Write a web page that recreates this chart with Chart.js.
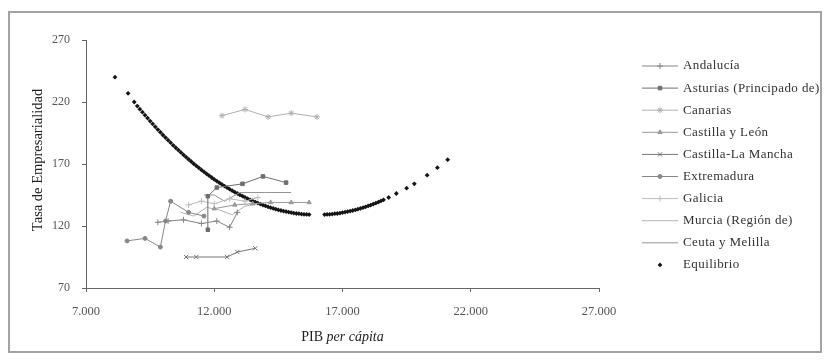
<html>
<head>
<meta charset="utf-8">
<title>Tasa de Empresarialidad - PIB per cápita</title>
<script src="https://cdn.jsdelivr.net/npm/chart.js@4.4.1/dist/chart.umd.min.js"></script>
<style>
  body { margin: 0; background: #fff; }
  #wrap { width: 826px; height: 360px; position: relative; }
</style>
</head>
<body>
<div id="wrap"><canvas id="chart" width="826" height="360"></canvas></div>
<script>
// --- data ---
var andaluciaX = [9800, 10200, 10800, 11500, 12100, 12600, 12900];
var andaluciaY = [123, 124, 125, 122, 124, 119, 131];
var asturiasX = [11750, 11750, 12100, 13100, 13900, 14800];
var asturiasY = [117, 144, 151, 154, 160, 155];
var canariasX = [12300, 13200, 14100, 15000, 16000];
var canariasY = [209, 214, 208, 211, 208];
var castillaLeonX = [12000, 12800, 13500, 14200, 15000, 15700];
var castillaLeonY = [134, 137, 138, 139, 139, 139];
var castillaManchaX = [10900, 11300, 12500, 12900, 13600];
var castillaManchaY = [95, 95, 95, 99, 102];
var extremaduraX = [8600, 9300, 9900, 10100, 10300, 11000, 11600];
var extremaduraY = [108, 110, 103, 124, 140, 131, 128];
var galiciaX = [11000, 11500, 12000, 12600, 13200, 13700];
var galiciaY = [137, 140, 138, 142, 140, 143];
var murciaX = [10700, 11200, 11700, 12200, 12700, 13200, 13700];
var murciaY = [131, 128, 135, 133, 129, 136, 138];
var ceutaX = [11600, 12000, 12400, 13000, 14000, 15000];
var ceutaY = [145, 145, 140, 147, 147, 147];

var equilibrioX = [8130, 8640, 8880, 9000, 9100, 9200, 9300, 9400, 9500, 9600, 9700, 9800, 9900,
  10000, 10100, 10200, 10300, 10400, 10500, 10600, 10700, 10800, 10900, 11000, 11100, 11200,
  11300, 11400, 11500, 11600, 11700, 11800, 11900, 12000, 12100, 12200, 12300, 12400, 12500,
  12600, 12700, 12800, 12900, 13000, 13100, 13200, 13300, 13400, 13500, 13600, 13700, 13800,
  13900, 14000, 14100, 14200, 14300, 14400, 14500, 14600, 14700, 14800, 14900, 15000, 15100,
  15200, 15300, 15400, 15500, 15600, 15700,
  16300, 16400, 16500, 16600, 16700, 16800, 16900, 17000, 17100, 17200, 17300, 17400, 17500,
  17600, 17700, 17800, 17900, 18000, 18100, 18200, 18300, 18400, 18500, 18600,
  18800, 19100, 19500, 19800, 20300, 20700, 21100];
var equilibrioY = [240, 227, 220, 216.7, 214.2, 211.8, 209.4, 207, 204.6, 202.3, 200, 197.8, 195.6,
  193.4, 191.3, 189.2, 187.2, 185.1, 183.1, 181.2, 179.3, 177.4, 175.6, 173.8, 172, 170.2,
  168.5, 166.9, 165.2, 163.7, 162.1, 160.6, 159.1, 157.6, 156.2, 154.8, 153.5, 152.2, 150.9,
  149.7, 148.5, 147.3, 146.2, 145.1, 144.1, 143, 142, 141.1, 140.2, 139.3, 138.5, 137.7,
  136.9, 136.2, 135.5, 134.8, 134.2, 133.6, 133, 132.5, 132, 131.6, 131.2, 130.8, 130.4,
  130.1, 129.9, 129.6, 129.4, 129.3, 129.2,
  129.2, 129.3, 129.4, 129.6, 129.9, 130.1, 130.4, 130.8, 131.2, 131.6, 132, 132.5, 133,
  133.6, 134.2, 134.8, 135.5, 136.2, 136.9, 137.7, 138.5, 139.3, 140.2, 141.1,
  143, 146.2, 150.5, 154, 161, 167, 173.5];

var xTicks = [7000, 12000, 17000, 22000, 27000];
var yTicks = [70, 120, 170, 220, 270];

function pts(xs, ys) {
    return xs.map(function(x, i){ return {x: x, y: ys[i]}; });
}

function region(label, xs, ys, color, style, radius) {
    return {
        label: label,
        data: pts(xs, ys),
        showLine: true,
        borderColor: color,
        backgroundColor: color,
        borderWidth: 1,
        pointStyle: style,
        pointRadius: radius,
        pointBorderWidth: 1
    };
}

var datasets = [
    region('Andalucía', andaluciaX, andaluciaY, '#858585', 'cross', 3),
    region('Asturias (Principado de)', asturiasX, asturiasY, '#6e6e6e', 'rect', 2.5),
    region('Canarias', canariasX, canariasY, '#b0b0b0', 'star', 3),
    region('Castilla y León', castillaLeonX, castillaLeonY, '#9a9a9a', 'triangle', 2.5),
    region('Castilla-La Mancha', castillaManchaX, castillaManchaY, '#777', 'crossRot', 3),
    region('Extremadura', extremaduraX, extremaduraY, '#888', 'circle', 2),
    region('Galicia', galiciaX, galiciaY, '#bdbdbd', 'cross', 3),
    region('Murcia (Región de)', murciaX, murciaY, '#b3b3b3', 'circle', 0),
    region('Ceuta y Melilla', ceutaX, ceutaY, '#959595', 'circle', 0),
    {
        label: 'Equilibrio',
        data: pts(equilibrioX, equilibrioY),
        showLine: false,
        borderColor: '#151515',
        backgroundColor: '#151515',
        pointStyle: 'rectRot',
        pointRadius: 2.4,
        pointBorderWidth: 0
    }
];

var SERIF = '"Liberation Serif", "DejaVu Serif", serif';

// frame, axis titles and legend drawn by hand
var decor = {
    id: 'decor',
    beforeDraw: function(chart) {
        var ctx = chart.ctx;
        ctx.save();
        ctx.fillStyle = '#fff';
        ctx.fillRect(0, 0, chart.width, chart.height);
        ctx.strokeStyle = '#a3a3a3';
        ctx.lineWidth = 2;
        ctx.strokeRect(9, 12, 812, 340);
        ctx.restore();
    },
    afterDraw: function(chart) {
        var ctx = chart.ctx;
        var area = chart.chartArea;
        ctx.save();
        ctx.fillStyle = '#222';
        ctx.textBaseline = 'middle';

        // y title
        ctx.save();
        ctx.translate(38, 160);
        ctx.rotate(-Math.PI / 2);
        ctx.textAlign = 'center';
        ctx.font = '14.5px ' + SERIF;
        ctx.fillText('Tasa de Empresarialidad', 0, 0);
        ctx.restore();

        // x title: "PIB" + italic "per cápita"
        ctx.font = '14px ' + SERIF;
        var a = 'PIB ';
        var wa = ctx.measureText(a).width;
        ctx.font = 'italic 14px ' + SERIF;
        var b = 'per cápita';
        var wb = ctx.measureText(b).width;
        var cx = (area.left + area.right) / 2 - (wa + wb) / 2;
        ctx.textAlign = 'left';
        ctx.font = '14px ' + SERIF;
        ctx.fillText(a, cx, 337);
        ctx.font = 'italic 14px ' + SERIF;
        ctx.fillText(b, cx + wa, 337);

        // legend
        ctx.font = '13px ' + SERIF;
        if ('letterSpacing' in ctx) ctx.letterSpacing = '0.4px';
        chart.data.datasets.forEach(function(ds, i) {
            var y = 66 + i * 22.1;
            if (ds.showLine) {
                ctx.strokeStyle = ds.borderColor;
                ctx.lineWidth = 1;
                ctx.beginPath();
                ctx.moveTo(642, y);
                ctx.lineTo(678, y);
                ctx.stroke();
            }
            if (ds.pointRadius > 0) {
                ctx.strokeStyle = ds.borderColor;
                ctx.fillStyle = ds.backgroundColor;
                ctx.lineWidth = ds.pointBorderWidth || 1;
                if (Chart.helpers && Chart.helpers.drawPoint) {
                    Chart.helpers.drawPoint(ctx, {pointStyle: ds.pointStyle, radius: ds.pointRadius, rotation: 0, borderWidth: ds.pointBorderWidth}, 660, y);
                } else {
                    ctx.beginPath(); ctx.arc(660, y, ds.pointRadius, 0, Math.PI * 2); ctx.fill();
                }
            }
            ctx.fillStyle = '#333';
            ctx.textAlign = 'left';
            ctx.fillText(ds.label, 683, y);
        });
        ctx.restore();
    }
};

var ctx = document.getElementById('chart').getContext('2d');
var chart = new Chart(ctx, {
    type: 'scatter',
    data: { datasets: datasets },
    options: {
        responsive: false,
        animation: false,
        layout: { padding: { left: 46, right: 227, top: 40, bottom: 42 } },
        plugins: {
            legend: { display: false },
            tooltip: { enabled: false }
        },
        scales: {
            x: {
                type: 'linear',
                min: 7000,
                max: 27000,
                afterFit: function(s) { s.height = 30; },
                afterBuildTicks: function(s) { s.ticks = xTicks.map(function(v){ return {value: v}; }); },
                ticks: {
                    font: { family: SERIF, size: 12.5 },
                    color: '#555',
                    padding: 12,
                    callback: function(v) { return v.toLocaleString('de-DE'); }
                },
                grid: { drawOnChartArea: false, color: '#666', tickLength: 4 },
                border: { color: '#666', width: 1 }
            },
            y: {
                min: 70,
                max: 270,
                afterFit: function(s) { s.width = 40; },
                afterBuildTicks: function(s) { s.ticks = yTicks.map(function(v){ return {value: v}; }); },
                ticks: {
                    font: { family: SERIF, size: 12 },
                    color: '#555',
                    padding: 12
                },
                grid: { drawOnChartArea: false, color: '#666', tickLength: 4 },
                border: { color: '#666', width: 1 }
            }
        }
    },
    plugins: [decor]
});
</script>
</body>
</html>
